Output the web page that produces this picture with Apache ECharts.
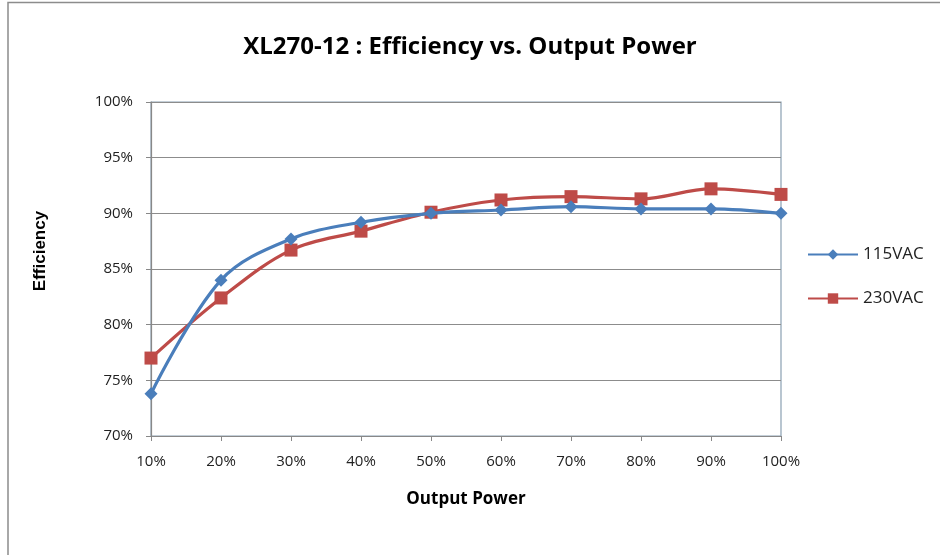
<!DOCTYPE html>
<html><head><meta charset="utf-8">
<script src="https://cdn.jsdelivr.net/npm/echarts@6/dist/echarts.min.js"></script>
<style>html,body{margin:0;padding:0;background:#fff}#c{width:940px;height:555px}</style>
</head><body><div id="c"></div>
<script>
var categories = ['10%','20%','30%','40%','50%','60%','70%','80%','90%','100%'];
var s115 = [73.8, 84.0, 87.7, 89.2, 90.0, 90.3, 90.6, 90.4, 90.4, 90.0];
var s230 = [77.0, 82.4, 86.7, 88.4, 90.1, 91.2, 91.5, 91.3, 92.2, 91.7];
var seriesNames = ['115VAC', '230VAC'];
var yTicks = {min: 70, max: 100, interval: 5};

var font = '"Open Sans",sans-serif';
var chart = echarts.init(document.getElementById('c'));
chart.setOption({
  animation: false,
  backgroundColor: '#fff',
  graphic: [
    {type: 'polyline', shape: {points: [[8, 560], [8, 2.5], [945, 2.5]]}, style: {stroke: '#8c8c8c', lineWidth: 1.5, fill: null}},
    {type: 'text', x: 40, y: 251, rotation: Math.PI / 2, style: {text: 'Efficiency', font: 'bold 17px "Liberation Sans", Arial, sans-serif', fill: '#000', align: 'center', verticalAlign: 'middle'}}
  ],
  title: {text: 'XL270-12 : Efficiency vs. Output Power', left: 'center', top: 30, textStyle: {fontFamily: font, fontSize: 24, fontWeight: 'bold', color: '#000'}},
  grid: {left: 151, right: 159, top: 102, bottom: 119, show: true, borderColor: '#8aa0b2', borderWidth: 1.2, backgroundColor: 'transparent'},
  legend: {orient: 'vertical', left: 802, top: 241, itemWidth: 50, itemHeight: 13, itemGap: 27,
    textStyle: {fontFamily: font, fontSize: 17, color: '#222', padding: [0,0,0,0]},
    data: seriesNames},
  xAxis: {type: 'category', data: categories, boundaryGap: false,
    name: 'Output Power', nameLocation: 'middle', nameGap: 55,
    nameTextStyle: {fontFamily: font, fontSize: 17, fontWeight: 'bold', color: '#000'},
    axisLine: {lineStyle: {color: '#888', width: 1.2}},
    axisTick: {show: true, length: 5, lineStyle: {color: '#888'}},
    axisLabel: {fontFamily: font, fontSize: 15, color: '#222', margin: 18}},
  yAxis: {type: 'value', min: yTicks.min, max: yTicks.max, interval: yTicks.interval,
    axisLine: {show: true, lineStyle: {color: '#888', width: 1.2}},
    axisTick: {show: true, length: 5, lineStyle: {color: '#888'}},
    axisLabel: {formatter: '{value}%', fontFamily: font, fontSize: 15, color: '#222', margin: 18},
    splitLine: {lineStyle: {color: '#8c8c8c', width: 1}}},
  series: [
    {name: seriesNames[0], type: 'line', data: s115, smooth: 0.35, symbol: 'diamond', symbolSize: 13,
      lineStyle: {color: '#4a7ebb', width: 3.2}, itemStyle: {color: '#4a7ebb'}, z: 3},
    {name: seriesNames[1], type: 'line', data: s230, smooth: 0.35, symbol: 'rect', symbolSize: 13,
      lineStyle: {color: '#be4b48', width: 3.2}, itemStyle: {color: '#be4b48'}, z: 2}
  ]
});
</script></body></html>
